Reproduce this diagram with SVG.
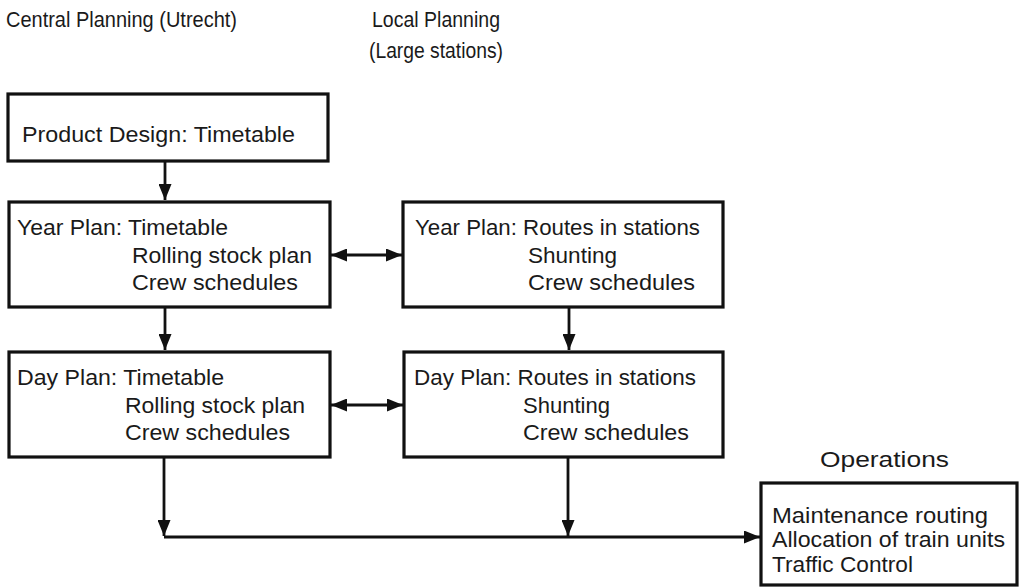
<svg xmlns="http://www.w3.org/2000/svg" width="1022" height="587" viewBox="0 0 1022 587">
  <defs>
    <style>
      .box { fill: #ffffff; stroke: #111; stroke-width: 3.2; }
      .lbl { font-family: "Liberation Sans", Arial, sans-serif; font-size: 22px; fill: #1a1a1a; }
      .edge { fill: none; stroke: #111; stroke-width: 2.8; }
    </style>
    <marker id="head" viewBox="0 0 16 13" refX="16" refY="6.5" markerWidth="16" markerHeight="13" markerUnits="userSpaceOnUse" orient="auto-start-reverse">
      <path d="M0,0 L16,6.5 L0,13 Z" fill="#111"/>
    </marker>
  </defs>

  <rect width="1022" height="587" fill="#ffffff"/>

  <!-- column headings -->
  <g id="heading-central">
    <text class="lbl" x="6" y="27" textLength="231" lengthAdjust="spacingAndGlyphs">Central Planning (Utrecht)</text>
  </g>
  <g id="heading-local">
    <text class="lbl" x="372" y="27" textLength="128" lengthAdjust="spacingAndGlyphs">Local Planning</text>
    <text class="lbl" x="369" y="58" textLength="134" lengthAdjust="spacingAndGlyphs">(Large stations)</text>
  </g>

  <!-- connectors -->
  <g id="connectors">
    <path class="edge" d="M165,161 V200" marker-end="url(#head)"/>
    <path class="edge" d="M165,307 V350" marker-end="url(#head)"/>
    <path class="edge" d="M569,307 V350" marker-end="url(#head)"/>
    <path class="edge" d="M331,255 H402" marker-start="url(#head)" marker-end="url(#head)"/>
    <path class="edge" d="M331,405 H403" marker-start="url(#head)" marker-end="url(#head)"/>
    <path class="edge" d="M164,457 V536" marker-end="url(#head)"/>
    <path class="edge" d="M568,457 V536" marker-end="url(#head)"/>
    <path class="edge" d="M164,537 H760" marker-end="url(#head)"/>
  </g>

  <!-- central planning -->
  <g id="product-design">
    <rect class="box" x="8" y="94" width="320" height="67"/>
    <text class="lbl" x="22" y="142" textLength="273" lengthAdjust="spacingAndGlyphs">Product Design: Timetable</text>
  </g>
  <g id="year-plan-central">
    <rect class="box" x="9" y="202" width="321" height="105"/>
    <text class="lbl" x="17" y="235" textLength="211" lengthAdjust="spacingAndGlyphs">Year Plan: Timetable</text>
    <text class="lbl" x="132" y="263" textLength="180" lengthAdjust="spacingAndGlyphs">Rolling stock plan</text>
    <text class="lbl" x="132" y="290" textLength="166" lengthAdjust="spacingAndGlyphs">Crew schedules</text>
  </g>
  <g id="day-plan-central">
    <rect class="box" x="9" y="352" width="321" height="105"/>
    <text class="lbl" x="17" y="385" textLength="207" lengthAdjust="spacingAndGlyphs">Day Plan: Timetable</text>
    <text class="lbl" x="125" y="413" textLength="180" lengthAdjust="spacingAndGlyphs">Rolling stock plan</text>
    <text class="lbl" x="125" y="440" textLength="165" lengthAdjust="spacingAndGlyphs">Crew schedules</text>
  </g>

  <!-- local planning -->
  <g id="year-plan-local">
    <rect class="box" x="403" y="202" width="320" height="105"/>
    <text class="lbl" x="415" y="235" textLength="285" lengthAdjust="spacingAndGlyphs">Year Plan: Routes in stations</text>
    <text class="lbl" x="528" y="263" textLength="89" lengthAdjust="spacingAndGlyphs">Shunting</text>
    <text class="lbl" x="528" y="290" textLength="167" lengthAdjust="spacingAndGlyphs">Crew schedules</text>
  </g>
  <g id="day-plan-local">
    <rect class="box" x="404" y="352" width="319" height="105"/>
    <text class="lbl" x="414" y="385" textLength="282" lengthAdjust="spacingAndGlyphs">Day Plan: Routes in stations</text>
    <text class="lbl" x="523" y="413" textLength="87" lengthAdjust="spacingAndGlyphs">Shunting</text>
    <text class="lbl" x="523" y="440" textLength="166" lengthAdjust="spacingAndGlyphs">Crew schedules</text>
  </g>

  <!-- operations -->
  <g id="operations">
    <text class="lbl" x="820" y="467" textLength="129" lengthAdjust="spacingAndGlyphs">Operations</text>
    <rect class="box" x="761" y="483" width="256" height="102"/>
    <text class="lbl" x="772" y="523" textLength="216" lengthAdjust="spacingAndGlyphs">Maintenance routing</text>
    <text class="lbl" x="772" y="547" textLength="233" lengthAdjust="spacingAndGlyphs">Allocation of train units</text>
    <text class="lbl" x="772" y="572" textLength="141" lengthAdjust="spacingAndGlyphs">Traffic Control</text>
  </g>
</svg>
